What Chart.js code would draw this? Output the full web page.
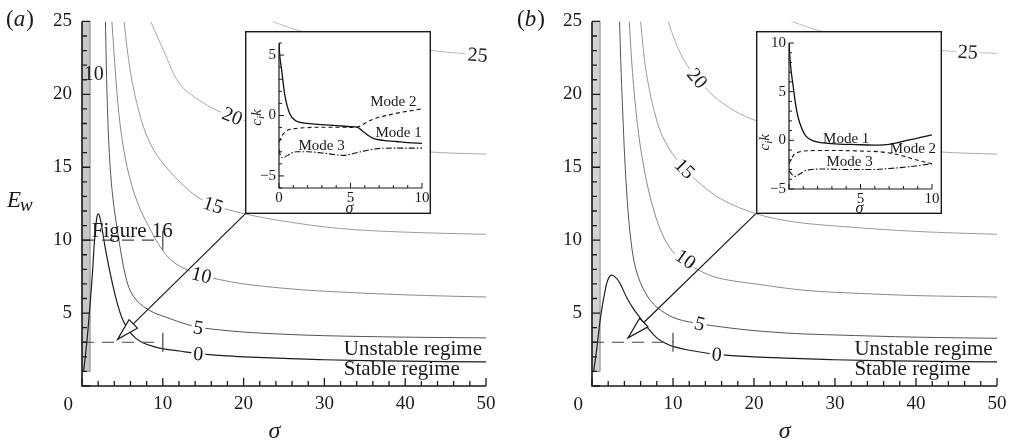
<!DOCTYPE html>
<html><head><meta charset="utf-8">
<script src="https://cdn.jsdelivr.net/npm/chart.js@4.4.1/dist/chart.umd.min.js"></script>
<style>
html,body{margin:0;padding:0;background:#fff;}
#wrap{position:relative;width:1015px;height:443px;overflow:hidden;background:#fff;}
canvas{position:absolute;}
</style></head><body>
<div id="wrap">
<canvas id="mainA" width="505" height="443" style="left:0px;top:0px"></canvas>
<canvas id="mainB" width="505" height="443" style="left:510px;top:0px"></canvas>
<canvas id="insetA"></canvas>
<canvas id="insetB"></canvas>
</div>
<script>
// ================= DATA =================
// contour levels
const levels = [0, 5, 10, 15, 20, 25];
// main axes tick labels
const mainXTicks = [10, 20, 30, 40, 50];
const mainYTicks = [5, 10, 15, 20, 25];

// ---- Panel (a) contours (sigma, E_w) ----
const aC0x  = [0.2,0.6,1.0,1.3,1.5,1.7,1.85,2.0,2.2,2.45,2.9,3.5,4.3,5.0,5.8,6.6,7.6,8.8,10.1,12,14.4,17,20,25,30,40,50];
const aC0y  = [1.0,3.0,5.6,7.8,9.6,10.9,11.6,11.8,11.6,10.9,9.4,7.7,5.8,4.6,3.8,3.3,2.95,2.72,2.55,2.4,2.22,2.1,2.0,1.9,1.8,1.7,1.65];
const aC5x  = [2.9,3.05,3.25,3.55,3.95,4.4,4.9,5.4,6.0,6.8,7.6,9,10.5,12,14.2,17,20,25,30,40,50];
const aC5y  = [25,21,17.5,14.5,12.3,10.6,8.9,7.5,6.5,5.85,5.45,5.0,4.7,4.4,4.05,3.85,3.7,3.55,3.45,3.35,3.3];
const aC10x = [3.7,4.2,4.7,5.4,6.3,7.3,8.3,9.5,10.9,12.5,14.8,17,20,25,30,40,50];
const aC10y = [25,21,18,15.5,13.5,12.0,10.9,9.7,8.7,8.1,7.6,7.3,7.0,6.7,6.5,6.25,6.1];
const aC15x = [5.2,6.0,7.2,8.3,9.7,12.1,14.2,16.25,20.2,25,31.9,40,50];
const aC15y = [25,21.5,18.5,16.8,15.5,14.0,13.0,12.4,11.8,11.3,10.8,10.55,10.4];
const aC20x = [8.5,10.1,12.1,14.5,16.7,18.6,20.2,25,30,35,43,50];
const aC20y = [25,23,20.7,19.6,18.9,18.5,18.2,17.4,16.9,16.5,16.05,15.9];
const aC25x = [23.5,27.3,32,37,43.2,50];
const aC25y = [25,24.3,23.8,23.4,23.0,22.65];

// ---- Panel (b) contours (sigma, E_w) ----
const bC0x  = [0.2,0.6,1.0,1.4,1.8,2.1,2.4,2.8,3.4,4.3,5.1,5.9,7.0,8.0,9,10.1,12,15.4,20,25,30,40,50];
const bC0y  = [1.0,2.6,4.5,5.9,7.0,7.45,7.6,7.5,7.1,6.05,5.3,4.7,3.9,3.3,2.95,2.7,2.45,2.17,2.0,1.9,1.8,1.7,1.65];
const bC5x  = [3.4,3.6,3.85,4.1,4.45,4.8,5.2,5.7,6.3,7.3,8.6,10.5,13.3,16,20,25,30,40,50];
const bC5y  = [25,21.5,18,15,12,10,8.5,7.5,6.7,5.8,5.15,4.6,4.27,4.05,3.8,3.6,3.5,3.35,3.27];
const bC10x = [4.6,5.0,5.6,6.3,7.3,8.6,10,11.55,13,15,17.5,20.7,24,27.7,33,40,50];
const bC10y = [25,21.5,18,15.3,12.7,10.5,9.2,8.5,8.0,7.5,7.2,6.96,6.7,6.5,6.35,6.2,6.1];
const bC15x = [6.0,6.7,8.1,9.5,11.45,13.5,16,20.3,25,30.6,40,50];
const bC15y = [25,21.5,18.0,16.3,14.9,13.8,12.8,11.8,11.25,10.95,10.6,10.4];
const bC20x = [9.4,10.3,11.5,13,15,17.5,20.2,25,30,35,43,50];
const bC20y = [25,23.6,22.2,21.1,19.9,18.9,18.2,17.4,16.9,16.5,16.05,15.9];
const bC25x = [24.6,28.5,33,38,43.1,46.4,50];
const bC25y = [25,24.3,23.8,23.35,23.0,22.9,22.8];

// ---- Inset (a): c_i k vs sigma ----
const iaXTicks = [0, 5, 10];
const iaYTicks = [-5, 0, 5];
const iaSigma1 = [0,0.05,0.17,0.4,0.75,1.2,2,3,4,5,5.5,5.9,6.6,7.3,8.2,9,10];
const iaMode1  = [6,5.0,3.9,1.75,0.14,-0.45,-0.65,-0.75,-0.83,-0.92,-0.98,-1.34,-1.9,-2.05,-2.15,-2.25,-2.3];
const iaSigma2 = [0.02,0.15,0.35,0.63,1.2,2,3,4,5,5.5,6,6.4,7,7.5,8.5,10];
const iaMode2  = [-2.2,-1.8,-1.45,-1.2,-1.07,-1.0,-0.97,-0.97,-0.98,-0.95,-0.65,-0.4,-0.15,0.0,0.25,0.55];
const iaSigma3 = [0,0.1,0.28,0.6,1.2,2,3,4,4.5,5.2,5.9,7.1,8.5,10];
const iaMode3  = [-2.8,-3.3,-3.5,-3.3,-3.0,-3.0,-3.1,-3.25,-3.3,-3.15,-2.95,-2.72,-2.7,-2.7];

// ---- Inset (b) ----
const ibXTicks = [5, 10];
const ibYTicks = [-5, 0, 5, 10];
const ibSigma1 = [0,0.1,0.28,0.45,0.63,0.9,1.2,1.7,2.4,3.5,4.7,5.5,6.3,7,7.5,8.1,8.7,9.3,10];
const ibMode1  = [10,7.8,5.7,3.8,2.4,1.2,0.4,-0.05,-0.27,-0.38,-0.44,-0.48,-0.5,-0.42,-0.27,-0.05,0.13,0.33,0.56];
const ibSigma2 = [0,0.2,0.4,0.7,1.0,2,3.6,5,6.3,7,7.5,8.1,8.7,9.4,10];
const ibMode2  = [-2.4,-1.8,-1.4,-1.2,-1.1,-1.05,-1.05,-1.1,-1.17,-1.3,-1.43,-1.65,-1.93,-2.2,-2.4];
const ibSigma3 = [0,0.2,0.4,0.7,1.2,2.4,4,5.9,7,7.8,9,10];
const ibMode3  = [-3.1,-3.5,-3.7,-3.5,-3.1,-2.95,-3.0,-3.0,-2.9,-2.8,-2.6,-2.4];

// ================= STYLE / ANNOTATIONS =================
const FAM = "'Liberation Serif','Times New Roman',serif";
const INK = '#1a1a1a';
const levelColors = ['#1e1e1e', '#555555', '#8a8a8a', '#9a9a9a', '#aaaaaa', '#bbbbbb'];

const annA = {
  strip: {x0: 0, x1: 1.0, y0: 1.0, y1: 25, fill: '#c8c8c8'},
  dashed: [[0, 10, 10], [0, 10, 3]],
  crossHalf: 0.65,
  insetBox: {x0: 20.2, x1: 43.15, y0: 11.8, y1: 24.33},
  arrowTip: [4.4, 3.2],
  labels: [
    {t: '25', x: 48.97, y: 22.7, r: 4},
    {t: '20', x: 18.6, y: 18.5, r: 22},
    {t: '15', x: 16.25, y: 12.4, r: 18},
    {t: '10', x: 14.8, y: 7.6, r: 14},
    {t: '5', x: 14.4, y: 4.0, r: 10},
    {t: '0', x: 14.4, y: 2.2, r: 5},
    {t: '10', x: 1.45, y: 21.4, r: 0, nobg: true}
  ],
  figure16: {x: 1.2, y: 10.23},
  panel: 'a',
  showEw: true
};
const annB = {
  strip: {x0: 0, x1: 1.0, y0: 1.0, y1: 25, fill: '#d2d2d2'},
  dashed: [[0, 10, 3]],
  crossHalf: 0.65,
  insetBox: {x0: 20.2, x1: 43.15, y0: 11.8, y1: 24.33},
  arrowTip: [4.45, 3.3],
  labels: [
    {t: '25', x: 46.4, y: 22.9, r: 3},
    {t: '20', x: 13.0, y: 21.1, r: 50},
    {t: '15', x: 11.45, y: 14.9, r: 45},
    {t: '10', x: 11.55, y: 8.7, r: 35},
    {t: '5', x: 13.3, y: 4.27, r: 15},
    {t: '0', x: 15.4, y: 2.17, r: 5}
  ],
  figure16: null,
  panel: 'b',
  showEw: false
};

// ================= HELPERS =================
function pts(xs, ys) { return xs.map((v, i) => ({x: v, y: ys[i]})); }
function contourDS(xs, ys, li) {
  return {data: pts(xs, ys), borderColor: levelColors[li], borderWidth: li === 0 ? 1.2 : 1.0,
    pointRadius: 0, fill: false, tension: 0.35};
}
function fmt(v) { return v < 0 ? '\u2212' + Math.abs(v) : String(v); }

function drawAxes(chart, o) {
  const ctx = chart.ctx, ca = chart.chartArea, xs = chart.scales.x, ys = chart.scales.y;
  ctx.save();
  ctx.strokeStyle = INK; ctx.lineWidth = o.lw;
  ctx.beginPath();
  ctx.moveTo(ca.left, ca.top); ctx.lineTo(ca.left, ca.bottom); ctx.lineTo(ca.right, ca.bottom);
  ctx.stroke();
  ctx.lineWidth = o.tw;
  ctx.beginPath();
  const isMaj = (v, m) => Math.abs(v / m - Math.round(v / m)) < 1e-6;
  for (let v = xs.min; v <= xs.max + 1e-9; v += o.xMinor) {
    const p = xs.getPixelForValue(v);
    ctx.moveTo(p, ca.bottom); ctx.lineTo(p, ca.bottom - (isMaj(v, o.xMajor) ? o.majLen : o.minLen));
  }
  for (let v = ys.min; v <= ys.max + 1e-9; v += o.yMinor) {
    const p = ys.getPixelForValue(v);
    ctx.moveTo(ca.left, p); ctx.lineTo(ca.left + (isMaj(v, o.yMajor) ? o.majLen : o.minLen), p);
  }
  ctx.stroke();
  ctx.restore();
}

function arrow(ctx, x0, y0, x1, y1) {
  const dx = x1 - x0, dy = y1 - y0, L = Math.hypot(dx, dy), ux = dx / L, uy = dy / L;
  const hl = 22, hw = 6;
  const bx = x1 - ux * hl, by = y1 - uy * hl;
  ctx.beginPath(); ctx.moveTo(x0, y0); ctx.lineTo(bx, by); ctx.stroke();
  ctx.beginPath(); ctx.moveTo(x1, y1);
  ctx.lineTo(bx - uy * hw, by + ux * hw); ctx.lineTo(bx + uy * hw, by - ux * hw); ctx.closePath();
  ctx.fillStyle = '#fff'; ctx.fill(); ctx.stroke();
}

function mainPlugin(ann) {
  return {
    id: 'decor' + ann.panel,
    beforeDatasetsDraw(chart) {
      const ctx = chart.ctx, X = v => chart.scales.x.getPixelForValue(v), Y = v => chart.scales.y.getPixelForValue(v);
      const s = ann.strip;
      ctx.save();
      ctx.fillStyle = s.fill;
      ctx.fillRect(X(s.x0), Y(s.y1), X(s.x1) - X(s.x0), Y(s.y0) - Y(s.y1));
      ctx.strokeStyle = '#8a8a8a'; ctx.lineWidth = 1;
      ctx.beginPath();
      ctx.moveTo(X(s.x1), Y(s.y1)); ctx.lineTo(X(s.x1), Y(s.y0)); ctx.lineTo(X(s.x0), Y(s.y0));
      ctx.stroke();
      ctx.restore();
    },
    afterDatasetsDraw(chart) {
      const ctx = chart.ctx;
      const X = v => chart.scales.x.getPixelForValue(v), Y = v => chart.scales.y.getPixelForValue(v);
      ctx.save();
      // dashed guide lines with crosses
      ctx.strokeStyle = '#444'; ctx.lineWidth = 1.2;
      ann.dashed.forEach(d => {
        ctx.setLineDash([12, 8]);
        ctx.beginPath(); ctx.moveTo(X(d[0]), Y(d[2])); ctx.lineTo(X(d[1]), Y(d[2])); ctx.stroke();
        ctx.setLineDash([]);
        ctx.beginPath(); ctx.moveTo(X(d[1]), Y(d[2] - ann.crossHalf)); ctx.lineTo(X(d[1]), Y(d[2] + ann.crossHalf)); ctx.stroke();
      });
      // contour labels
      ctx.font = '20px ' + FAM; ctx.textAlign = 'center'; ctx.textBaseline = 'middle';
      ann.labels.forEach(l => {
        ctx.save();
        ctx.translate(X(l.x), Y(l.y)); ctx.rotate(l.r * Math.PI / 180);
        const w = ctx.measureText(l.t).width;
        if (!l.nobg) { ctx.fillStyle = '#fff'; ctx.fillRect(-w / 2 - 2, -8, w + 4, 16); }
        ctx.fillStyle = INK; ctx.fillText(l.t, 0, 1);
        ctx.restore();
      });
      // regime texts
      ctx.font = '21px ' + FAM; ctx.textAlign = 'left'; ctx.textBaseline = 'alphabetic'; ctx.fillStyle = INK;
      ctx.fillText('Unstable regime', X(32.4), Y(2.1));
      ctx.fillText('Stable regime', X(32.4), Y(0.75));
      if (ann.figure16) ctx.fillText('Figure 16', X(ann.figure16.x), Y(ann.figure16.y));
      // arrow from inset corner
      ctx.strokeStyle = INK; ctx.lineWidth = 1.2;
      arrow(ctx, X(ann.insetBox.x0), Y(ann.insetBox.y0), X(ann.arrowTip[0]), Y(ann.arrowTip[1]));
      ctx.restore();
    },
    afterDraw(chart) {
      const ctx = chart.ctx, ca = chart.chartArea, X = v => chart.scales.x.getPixelForValue(v);
      drawAxes(chart, {lw: 1.6, tw: 1.3, xMinor: 2, xMajor: 10, yMinor: 1, yMajor: 5, majLen: 8, minLen: 5});
      ctx.save();
      ctx.fillStyle = INK;
      // corner zero
      ctx.font = '19px ' + FAM; ctx.textAlign = 'right'; ctx.textBaseline = 'middle';
      ctx.fillText('0', ca.left - 9, 405);
      // sigma title
      ctx.font = 'italic 24px ' + FAM; ctx.textAlign = 'center'; ctx.textBaseline = 'alphabetic';
      ctx.fillText('\u03c3', X(23.8), 438);
      // panel label
      ctx.textAlign = 'left';
      let x0 = ann.panel === 'a' ? 6 : 7;
      ctx.font = '23px ' + FAM; ctx.fillText('(', x0, 26); x0 += ctx.measureText('(').width;
      ctx.font = 'italic 23px ' + FAM; ctx.fillText(ann.panel, x0, 26); x0 += ctx.measureText(ann.panel).width + 1;
      ctx.font = '23px ' + FAM; ctx.fillText(')', x0, 26);
      if (ann.showEw) {
        ctx.font = 'italic 23px ' + FAM; ctx.fillText('E', 7, 207);
        const w = ctx.measureText('E').width;
        ctx.font = 'italic 19px ' + FAM; ctx.fillText('w', 7 + w - 1, 211);
      }
      ctx.restore();
    }
  };
}

function mainConfig(datasets, ann, yw, padR) {
  return {
    type: 'line',
    data: {datasets},
    options: {
      responsive: false, animation: false, events: [],
      layout: {padding: {left: 0, right: padR, top: 17, bottom: 0}},
      plugins: {legend: {display: false}, tooltip: {enabled: false}},
      scales: {
        x: {type: 'linear', min: 0, max: 50,
          grid: {display: false, drawTicks: false}, border: {display: false},
          afterFit(s) { s.height = 57; },
          afterBuildTicks(s) { s.ticks = mainXTicks.map(v => ({value: v})); },
          ticks: {font: {family: FAM, size: 19}, color: INK, padding: 7, maxRotation: 0, autoSkip: false, callback: v => fmt(v)}},
        y: {type: 'linear', min: 0, max: 25,
          grid: {display: false, drawTicks: false}, border: {display: false},
          afterFit(s) { s.width = yw; },
          afterBuildTicks(s) { s.ticks = mainYTicks.map(v => ({value: v})); },
          ticks: {font: {family: FAM, size: 19}, color: INK, padding: 10, autoSkip: false, callback: v => fmt(v)}}
      }
    },
    plugins: [mainPlugin(ann)]
  };
}

function modeDS(xs, ys, dash, w) {
  return {data: pts(xs, ys), borderColor: '#111', borderWidth: w, borderDash: dash,
    pointRadius: 0, fill: false, cubicInterpolationMode: 'monotone'};
}

function insetPlugin(o) {
  return {
    id: 'inset' + o.id,
    beforeDraw(chart) {
      const c = chart.ctx; c.save(); c.fillStyle = '#fff'; c.fillRect(0, 0, chart.width, chart.height); c.restore();
    },
    afterDraw(chart) {
      const ctx = chart.ctx, ca = chart.chartArea;
      const X = v => chart.scales.x.getPixelForValue(v), Y = v => chart.scales.y.getPixelForValue(v);
      drawAxes(chart, {lw: 1.2, tw: 1.0, xMinor: 1, xMajor: 5, yMinor: 1, yMajor: 5, majLen: 5, minLen: 3});
      ctx.save();
      ctx.fillStyle = INK;
      ctx.font = '15px ' + FAM; ctx.textAlign = 'center'; ctx.textBaseline = 'middle';
      o.modeLabels.forEach(m => ctx.fillText(m.t, X(m.x), Y(m.y)));
      // sigma
      ctx.font = 'italic 16px ' + FAM; ctx.textBaseline = 'alphabetic';
      ctx.fillText('\u03c3', (ca.left + ca.right) / 2 - 1, chart.height - 1);
      // c_i k
      ctx.save();
      ctx.translate(o.yTitleX, Y(0) + 2); ctx.rotate(-Math.PI / 2);
      ctx.textAlign = 'left';
      ctx.font = 'italic 15px ' + FAM;
      const wc = ctx.measureText('c').width;
      ctx.font = 'italic 11px ' + FAM;
      const wi = ctx.measureText('i').width;
      ctx.font = 'italic 15px ' + FAM;
      const wk = ctx.measureText('k').width;
      let sx = -(wc + wi + wk) / 2;
      ctx.fillText('c', sx, 5); sx += wc;
      ctx.font = 'italic 11px ' + FAM; ctx.fillText('i', sx, 8); sx += wi;
      ctx.font = 'italic 15px ' + FAM; ctx.fillText('k', sx, 5);
      ctx.restore();
      // box
      ctx.strokeStyle = INK; ctx.lineWidth = 1.4;
      ctx.strokeRect(0.7, 0.7, chart.width - 1.4, chart.height - 1.4);
      ctx.restore();
    }
  };
}

function insetConfig(datasets, o) {
  return {
    type: 'line',
    data: {datasets},
    options: {
      responsive: false, animation: false, events: [],
      layout: {padding: {left: 0, right: o.padR, top: o.padT, bottom: 0}},
      plugins: {legend: {display: false}, tooltip: {enabled: false}},
      scales: {
        x: {type: 'linear', min: 0, max: 10,
          grid: {display: false, drawTicks: false}, border: {display: false},
          afterFit(s) { s.height = o.xh; },
          afterBuildTicks(s) { s.ticks = o.xTicks.map(v => ({value: v})); },
          ticks: {font: {family: FAM, size: 15}, color: INK, padding: 1, maxRotation: 0, autoSkip: false, callback: v => fmt(v)}},
        y: {type: 'linear', min: o.ymin, max: o.ymax,
          grid: {display: false, drawTicks: false}, border: {display: false},
          afterFit(s) { s.width = o.yw; },
          afterBuildTicks(s) { s.ticks = o.yTicks.map(v => ({value: v})); },
          ticks: {font: {family: FAM, size: 15}, color: INK, padding: 3, autoSkip: false, callback: v => fmt(v)}}
      }
    },
    plugins: [insetPlugin(o)]
  };
}

// ================= BUILD =================
const dsA = [
  contourDS(aC25x, aC25y, 5), contourDS(aC20x, aC20y, 4), contourDS(aC15x, aC15y, 3),
  contourDS(aC10x, aC10y, 2), contourDS(aC5x, aC5y, 1), contourDS(aC0x, aC0y, 0)
];
const dsB = [
  contourDS(bC25x, bC25y, 5), contourDS(bC20x, bC20y, 4), contourDS(bC15x, bC15y, 3),
  contourDS(bC10x, bC10y, 2), contourDS(bC5x, bC5y, 1), contourDS(bC0x, bC0y, 0)
];
const chartA = new Chart(document.getElementById('mainA'), mainConfig(dsA, annA, 82, 19));
const chartB = new Chart(document.getElementById('mainB'), mainConfig(dsB, annB, 82, 18));

function placeInset(canvasId, chart, offX, box) {
  const xs = chart.scales.x, ys = chart.scales.y;
  const l = Math.round(offX + xs.getPixelForValue(box.x0));
  const r = Math.round(offX + xs.getPixelForValue(box.x1));
  const t = Math.round(ys.getPixelForValue(box.y1));
  const b = Math.round(ys.getPixelForValue(box.y0));
  const cv = document.getElementById(canvasId);
  cv.width = r - l; cv.height = b - t;
  cv.style.left = l + 'px'; cv.style.top = t + 'px';
  cv.style.width = (r - l) + 'px'; cv.style.height = (b - t) + 'px';
  return cv;
}

const cvA = placeInset('insetA', chartA, 0, annA.insetBox);
const cvB = placeInset('insetB', chartB, 510, annB.insetBox);

new Chart(cvA, insetConfig([
  modeDS(iaSigma1, iaMode1, [], 1.3),
  modeDS(iaSigma2, iaMode2, [4, 3], 1.1),
  modeDS(iaSigma3, iaMode3, [6, 2, 1.5, 2], 1.1)
], {id: 'A', padR: 9, padT: 10, xh: 26, yw: 34, ymin: -6, ymax: 6, xTicks: iaXTicks, yTicks: iaYTicks, yTitleX: 11,
  modeLabels: [{t: 'Mode 2', x: 8.0, y: 1.08}, {t: 'Mode 1', x: 8.36, y: -1.42}, {t: 'Mode 3', x: 2.98, y: -2.55}]}));

new Chart(cvB, insetConfig([
  modeDS(ibSigma1, ibMode1, [], 1.3),
  modeDS(ibSigma2, ibMode2, [4, 3], 1.1),
  modeDS(ibSigma3, ibMode3, [6, 2, 1.5, 2], 1.1)
], {id: 'B', padR: 10, padT: 10, xh: 25, yw: 33, ymin: -5, ymax: 10, xTicks: ibXTicks, yTicks: ibYTicks, yTitleX: 8,
  modeLabels: [{t: 'Mode 1', x: 4.0, y: 0.13}, {t: 'Mode 2', x: 8.67, y: -0.87}, {t: 'Mode 3', x: 4.24, y: -2.27}]}));
</script>
</body></html>
